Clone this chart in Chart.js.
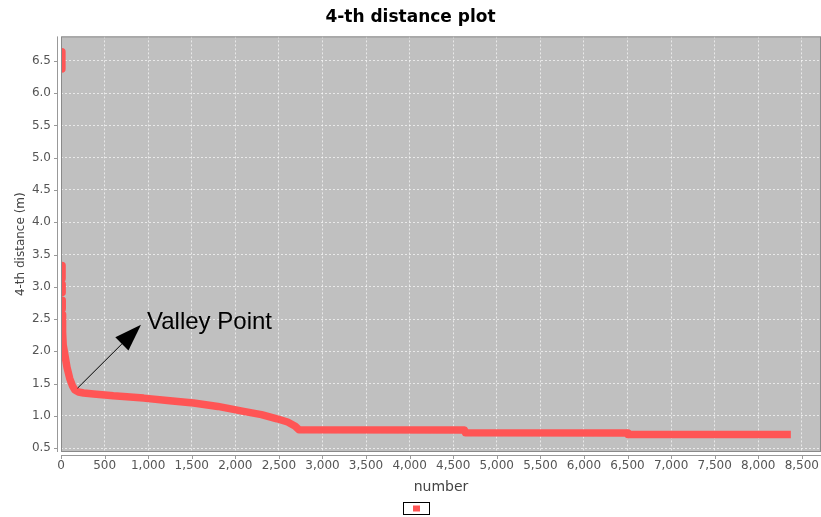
<!DOCTYPE html>
<html>
<head>
<meta charset="utf-8">
<script src="https://cdn.jsdelivr.net/npm/chart.js@4.4.1/dist/chart.umd.min.js"></script>
<style>
  body { margin: 0; background: #fff; }
  canvas { display: block; }
</style>
</head>
<body>
<canvas id="grafico" width="821" height="517"></canvas>
<script>
// datos (k-distance ordenada)
var numbers = [10, 10, 10, 12, 12, 12, 13, 13, 13, 14, 14, 14,
  15, 18, 25, 40, 69, 100, 130, 160, 200, 260, 374, 600, 948, 1250, 1521,
  1800, 2095, 2300, 2478, 2600, 2688, 2730, 4630, 4640, 6495, 6505, 8374];
var dist = [6.644, 6.376, null, 3.33, 3.13, null, 3.04, 2.91, null, 2.79, 2.66, null,
  2.57, 2.3, 2.1, 1.98, 1.75, 1.58, 1.47, 1.40, 1.37, 1.355, 1.34, 1.31, 1.275, 1.235, 1.20,
  1.146, 1.07, 1.02, 0.955, 0.905, 0.84, 0.785, 0.78, 0.737, 0.735, 0.712, 0.712];

var xTicks = [0, 500, 1000, 1500, 2000, 2500, 3000, 3500, 4000, 4500, 5000, 5500, 6000, 6500, 7000, 7500, 8000, 8500];
var yTicks = [0.5, 1.0, 1.5, 2.0, 2.5, 3.0, 3.5, 4.0, 4.5, 5.0, 5.5, 6.0, 6.5];
var xLimits = [0, 8720];
var yLimits = [0.44, 6.88];

var chartTitle = '4-th distance plot';
var xTitle = 'number';
var yTitle = '4-th distance (m)';
var valleyText = 'Valley Point';
var valleyFrom = [190, 1.43];
var valleyTo = [918, 2.41];
var valleyLabel = [987, 2.35];

var puntos = numbers.map(function(n, i){ return {x: n, y: dist[i]}; });

//--------------------------------------------------------------------------------------
// fondo, ejes y anotacion
//--------------------------------------------------------------------------------------
var plotDeco = {
  id: 'plotDeco',
  beforeDraw: function(chart){
    var a = chart.chartArea, ctx = chart.ctx;
    ctx.save();
    ctx.fillStyle = '#c0c0c0';
    ctx.fillRect(a.left, a.top, a.right - a.left, a.bottom - a.top);
    ctx.restore();
  },
  afterDraw: function(chart){
    var a = chart.chartArea, ctx = chart.ctx;
    var xs = chart.scales.x, ys = chart.scales.y;
    ctx.save();
    // borde del area
    ctx.strokeStyle = '#8a8a8a';
    ctx.lineWidth = 1;
    ctx.strokeRect(a.left + 0.5, a.top + 0.5, a.right - a.left - 1, a.bottom - a.top - 1);
    // ejes desplazados
    ctx.strokeStyle = '#999';
    ctx.beginPath();
    ctx.moveTo(a.left - 3.5, a.top); ctx.lineTo(a.left - 3.5, a.bottom);
    ctx.moveTo(a.left, a.bottom + 3.5); ctx.lineTo(a.right, a.bottom + 3.5);
    ys.ticks.forEach(function(t){
      var p = Math.round(ys.getPixelForValue(t.value)) + 0.5;
      ctx.moveTo(a.left - 7, p); ctx.lineTo(a.left - 3.5, p);
    });
    xs.ticks.forEach(function(t){
      var p = Math.round(xs.getPixelForValue(t.value)) + 0.5;
      ctx.moveTo(p, a.bottom + 3.5); ctx.lineTo(p, a.bottom + 7);
    });
    ctx.stroke();

    // flecha "Valley Point"
    var x0 = xs.getPixelForValue(valleyFrom[0]), y0 = ys.getPixelForValue(valleyFrom[1]);
    var x1 = xs.getPixelForValue(valleyTo[0]), y1 = ys.getPixelForValue(valleyTo[1]);
    var ang = Math.atan2(y1 - y0, x1 - x0);
    var len = 27, hw = 9.3;
    var bx = x1 - len * Math.cos(ang), by = y1 - len * Math.sin(ang);
    ctx.strokeStyle = '#000';
    ctx.lineWidth = 1;
    ctx.beginPath();
    ctx.moveTo(x0, y0); ctx.lineTo(bx, by);
    ctx.stroke();
    ctx.fillStyle = '#000';
    ctx.beginPath();
    ctx.moveTo(x1, y1);
    ctx.lineTo(bx + hw * Math.sin(ang), by - hw * Math.cos(ang));
    ctx.lineTo(bx - hw * Math.sin(ang), by + hw * Math.cos(ang));
    ctx.closePath();
    ctx.fill();
    ctx.font = '24px "Liberation Sans", Arial, sans-serif';
    ctx.textBaseline = 'alphabetic';
    ctx.textAlign = 'left';
    ctx.fillText(valleyText, xs.getPixelForValue(valleyLabel[0]), ys.getPixelForValue(valleyLabel[1]));

    // leyenda sin texto
    ctx.strokeStyle = '#000';
    ctx.fillStyle = '#fff';
    ctx.fillRect(403.5, 502.5, 26, 12);
    ctx.strokeRect(403.5, 502.5, 26, 12);
    ctx.fillStyle = '#ff5555';
    ctx.fillRect(413, 505.5, 7, 6);
    ctx.restore();
  }
};

var ctx = document.getElementById('grafico').getContext('2d');
var grafDistancia = new Chart(ctx, {
  type: 'line',
  data: {
    datasets: [{
      label: '',
      data: puntos,
      borderColor: '#ff5555',
      backgroundColor: '#ff5555',
      borderWidth: 7.5,
      borderCapStyle: 'butt',
      borderJoinStyle: 'round',
      pointRadius: 0,
      spanGaps: false,
      tension: 0,
      clip: 0
    }]
  },
  options: {
    responsive: false,
    animation: false,
    devicePixelRatio: 1,
    layout: { padding: { left: 0, right: 0, top: 0, bottom: 21 } },
    plugins: {
      legend: { display: false },
      tooltip: { enabled: false },
      title: {
        display: true,
        text: chartTitle,
        color: '#000',
        font: { family: 'DejaVu Sans', size: 17, weight: 'bold' },
        padding: { top: 7, bottom: 9 }
      }
    },
    scales: {
      x: {
        type: 'linear',
        min: xLimits[0],
        max: xLimits[1],
        afterBuildTicks: function(s){ s.ticks = xTicks.map(function(v){ return {value: v}; }); },
        afterFit: function(s){ s.height = 44; s.paddingRight = 0; },
        grid: { color: 'rgba(255,255,255,0.65)', drawTicks: false, lineWidth: 1 },
        border: { display: false, dash: [2, 2] },
        ticks: {
          maxRotation: 0,
          autoSkip: false,
          padding: 7,
          color: '#555',
          font: { family: 'DejaVu Sans', size: 12 },
          callback: function(v){ return v.toLocaleString('en-US'); }
        },
        title: {
          display: true,
          text: xTitle,
          color: '#444',
          font: { family: 'DejaVu Sans', size: 14 },
          padding: { top: 0, bottom: 0 }
        }
      },
      y: {
        type: 'linear',
        min: yLimits[0],
        max: yLimits[1],
        afterBuildTicks: function(s){ s.ticks = yTicks.map(function(v){ return {value: v}; }); },
        afterFit: function(s){ s.width = 61; },
        grid: { color: 'rgba(255,255,255,0.65)', drawTicks: false, lineWidth: 1 },
        border: { display: false, dash: [2, 2] },
        ticks: {
          autoSkip: false,
          padding: 10,
          color: '#555',
          font: { family: 'DejaVu Sans', size: 12 },
          callback: function(v){ return v.toFixed(1); }
        },
        title: {
          display: true,
          text: yTitle,
          color: '#444',
          font: { family: 'DejaVu Sans', size: 12 },
          padding: { top: 14, bottom: 0 }
        }
      }
    }
  },
  plugins: [plotDeco]
});
</script>
</body>
</html>
